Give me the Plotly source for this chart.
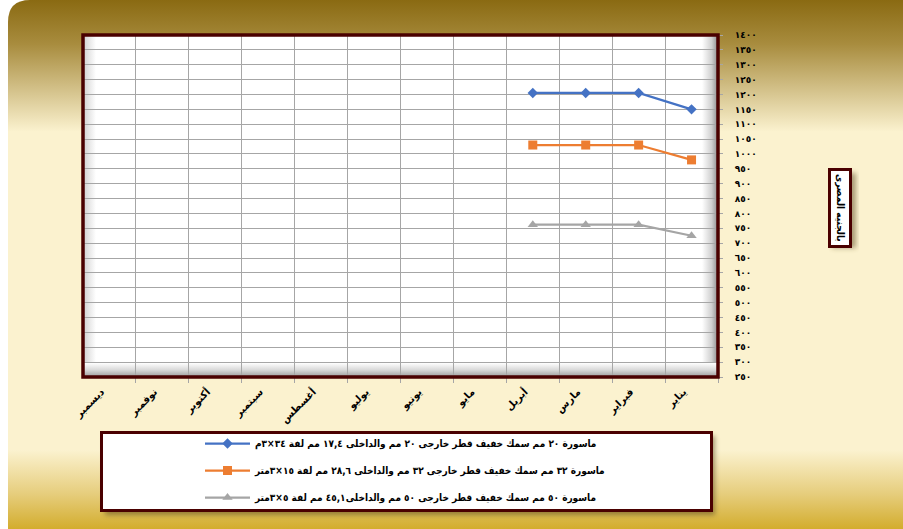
import base64
import plotly.graph_objects as go

# ---------------- data ----------------
months = ["يناير", "فبراير", "مارس", "أبريل", "مايو", "يونيو",
          "يوليو", "أغسطس", "سبتمبر", "أكتوبر", "نوفمبر", "ديسمبر"]

series_names = [
    "ماسورة ٢٠ مم سمك خفيف قطر خارجى ٢٠ مم والداخلى ١٧,٤ مم لفة ٣٤×٣م",
    "ماسورة ٣٢ مم سمك خفيف قطر خارجى ٣٢ مم والداخلى ٢٨,٦ مم لفة ١٥×٣متر",
    "ماسورة ٥٠ مم سمك خفيف قطر خارجى ٥٠ مم والداخلى٤٥,١ مم لفة ٥×٣متر",
]
pipe20 = [1150, 1205, 1205, 1205, None, None, None, None, None, None, None, None]
pipe32 = [980, 1030, 1030, 1030, None, None, None, None, None, None, None, None]
pipe50 = [725, 762, 762, 762, None, None, None, None, None, None, None, None]

y_tickvals = [250, 300, 350, 400, 450, 500, 550, 600, 650, 700, 750, 800,
              850, 900, 950, 1000, 1050, 1100, 1150, 1200, 1250, 1300, 1350, 1400]
y_ticktext = ["٢٥٠", "٣٠٠", "٣٥٠", "٤٠٠", "٤٥٠", "٥٠٠", "٥٥٠", "٦٠٠", "٦٥٠", "٧٠٠",
              "٧٥٠", "٨٠٠", "٨٥٠", "٩٠٠", "٩٥٠", "١٠٠٠", "١٠٥٠", "١١٠٠", "١١٥٠",
              "١٢٠٠", "١٢٥٠", "١٣٠٠", "١٣٥٠", "١٤٠٠"]
y_title = "بالجنيه المصرى"

# ---------------- layout geometry ----------------
FW, FH = 903, 529
L, R, T, B = 83, 185, 35, 152
W = FW - L - R
H = FH - T - B

# ---------------- background (decoration) ----------------
svg = f'''<svg xmlns="http://www.w3.org/2000/svg" width="{FW}" height="{FH}" viewBox="0 0 {FW} {FH}">
<defs>
<linearGradient id="bg" x1="0" y1="0" x2="0" y2="1">
<stop offset="0" stop-color="#8a6a12"/>
<stop offset="0.08" stop-color="#a88c3e"/>
<stop offset="0.24" stop-color="#fbf2cf"/>
<stop offset="0.82" stop-color="#fbf2cf"/>
<stop offset="0.9" stop-color="#e6cd7c"/>
<stop offset="1" stop-color="#c89a00"/>
</linearGradient>
<linearGradient id="lw" x1="0" y1="0" x2="1" y2="0">
<stop offset="0" stop-color="#cfcfcf"/><stop offset="0.5" stop-color="#e8e8e8"/><stop offset="1" stop-color="#ffffff"/>
</linearGradient>
<linearGradient id="rw" x1="0" y1="0" x2="1" y2="0">
<stop offset="0" stop-color="#ffffff"/><stop offset="0.6" stop-color="#d0d0d0"/><stop offset="1" stop-color="#8c8c8c"/>
</linearGradient>
<linearGradient id="fl" x1="0" y1="0" x2="0" y2="1">
<stop offset="0" stop-color="#ffffff"/><stop offset="0.5" stop-color="#d8d8d8"/><stop offset="1" stop-color="#9a9a9a"/>
</linearGradient>
<filter id="sh" x="-10%" y="-10%" width="120%" height="130%"><feGaussianBlur stdDeviation="2.5"/></filter>
</defs>
<path d="M8,22 Q8,0 30,0 L{FW+20},0 L{FW+20},{FH+20} L30,{FH+20} Q8,{FH+20} 8,{FH} Z" fill="url(#bg)"/>
<rect x="{L}" y="{T}" width="{W}" height="{H}" fill="#ffffff"/>
<rect x="{L}" y="{T}" width="13" height="{H}" fill="url(#lw)"/>
<rect x="{L+W-16}" y="{T}" width="16" height="{H}" fill="url(#rw)"/>
<rect x="{L}" y="{T+H-14}" width="{W}" height="14" fill="url(#fl)"/>
<rect x="105" y="436" width="610" height="79" fill="#5a4a20" opacity="0.55" filter="url(#sh)"/>
<rect x="101.5" y="432.5" width="610" height="78" fill="#ffffff" stroke="#4a0000" stroke-width="3"/>
<rect x="832" y="173" width="24" height="75" fill="#5a4a20" opacity="0.5" filter="url(#sh)"/>
</svg>'''
svg_uri = "data:image/svg+xml;base64," + base64.b64encode(svg.encode("utf-8")).decode("ascii")

fig = go.Figure()

styles = [
    dict(color="#4472c4", symbol="diamond", size=8),
    dict(color="#ed7d31", symbol="square", size=9),
    dict(color="#a5a5a5", symbol="triangle-up", size=9),
]
for i, (name, vals) in enumerate(zip(series_names, [pipe20, pipe32, pipe50])):
    st = styles[i]
    fig.add_trace(go.Scatter(
        x=months, y=vals, name=name, mode="lines+markers",
        line=dict(color=st["color"], width=2.25),
        marker=dict(color=st["color"], symbol=st["symbol"], size=st["size"]),
        legendgroup=f"g{i}", connectgaps=False,
    ))

fig.update_layout(
    width=FW, height=FH,
    margin=dict(l=L, r=R, t=T, b=B, pad=0),
    paper_bgcolor="#ffffff",
    plot_bgcolor="rgba(0,0,0,0)",
    font=dict(family="DejaVu Sans, Arial, sans-serif", color="#000000"),
    showlegend=True,
    legend=dict(
        x=(200 - L) / W, y=(T + H - 429) / H, xanchor="left", yanchor="top",
        bgcolor="rgba(0,0,0,0)", borderwidth=0,
        font=dict(size=10, family="DejaVu Sans Condensed, DejaVu Sans, sans-serif", weight="bold"),
        itemwidth=45, tracegroupgap=8, traceorder="grouped",
    ),
    images=[dict(
        source=svg_uri, xref="paper", yref="paper",
        x=-L / W, y=1 + T / H, sizex=FW / W, sizey=FH / H,
        xanchor="left", yanchor="top", sizing="stretch", layer="below",
    )],
    shapes=[dict(
        type="rect", xref="paper", yref="paper", x0=0, x1=1, y0=0, y1=1,
        line=dict(color="#4a0000", width=3.5), fillcolor="rgba(0,0,0,0)", layer="above",
    )],
    annotations=[dict(
        x=(840 - L) / W, y=(T + H - 208) / H, xref="paper", yref="paper",
        xanchor="center", yanchor="middle",
        text=y_title, textangle=90, showarrow=False,
        font=dict(size=10, weight="bold", family="DejaVu Sans Condensed, DejaVu Sans, sans-serif"),
        bgcolor="#ffffff", bordercolor="#4a0000", borderwidth=3, borderpad=3,
    )],
)

fig.update_xaxes(
    type="category", categoryorder="array", categoryarray=months,
    range=[len(months) - 0.5, -0.5], tickson="boundaries",
    showgrid=True, gridcolor="#a6a6a6", gridwidth=1,
    ticks="outside", ticklen=5, tickcolor="#a6a6a6",
    tickangle=-45, tickfont=dict(size=10, weight="bold"),
    ticklabelstandoff=6, ticklabelshift=8,
    showline=False, zeroline=False,
)
fig.update_yaxes(
    range=[250, 1400], side="right",
    tickvals=y_tickvals, ticktext=y_ticktext,
    showgrid=True, gridcolor="#a6a6a6", gridwidth=1,
    ticks="outside", ticklen=4, tickcolor="#a6a6a6",
    ticklabelstandoff=10,
    tickfont=dict(size=9, weight="bold"),
    showline=False, zeroline=False,
)

fig.write_html(
    "out.html",
    config={"displayModeBar": False},
    post_script="document.body.style.margin='0';document.body.style.overflow='hidden';",
)
